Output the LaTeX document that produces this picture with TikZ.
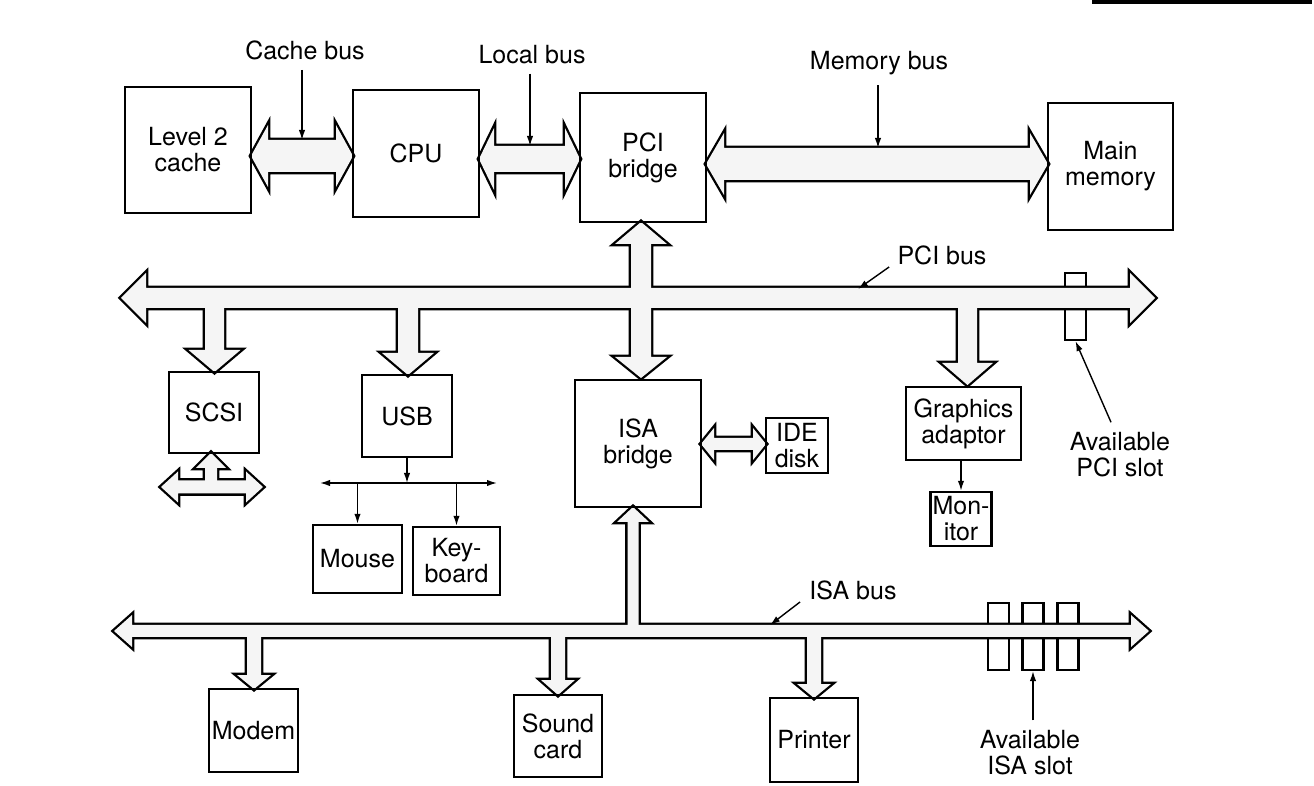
\documentclass[tikz,border=0pt]{standalone}
\usepackage{fontspec}
\setmainfont{TeX Gyre Heros}
\usetikzlibrary{arrows.meta}
\definecolor{busgray}{gray}{0.96}
\newcommand\lbfont{\fontsize{12.5}{13}\selectfont}
% horizontal double arrow: x1 x2 cy shaft-half head-half head-length
\newcommand\busH[6]{(#1,#3) -- ++(#6,-#5) -- ++(0,{#5-#4}) -- ({#2-#6},{#3-#4}) -- ++(0,{#4-#5}) -- (#2,#3) -- ({#2-#6},{#3+#5}) -- ++(0,{#4-#5}) -- ({#1+#6},{#3+#4}) -- ++(0,{#5-#4}) -- cycle}
% vertical arrow pointing down: cx ytop ytip shaft-half head-half head-length
\newcommand\busDown[6]{({#1-#4},#2) -- ({#1-#4},{#3-#6}) -- ({#1-#5},{#3-#6}) -- (#1,#3) -- ({#1+#5},{#3-#6}) -- ({#1+#4},{#3-#6}) -- ({#1+#4},#2) -- cycle}
% vertical arrow pointing up: cx ybottom ytip shaft-half head-half head-length
\newcommand\busUp[6]{({#1-#4},#2) -- ({#1-#4},{#3+#6}) -- ({#1-#5},{#3+#6}) -- (#1,#3) -- ({#1+#5},{#3+#6}) -- ({#1+#4},{#3+#6}) -- ({#1+#4},#2) -- cycle}
\newcommand\allbuses[1]{%
 \path[#1] \busH{251}{353}{156}{16}{31}{17};
 \path[#1] \busH{479}{580}{159}{13}{31}{15};
 \path[#1] \busH{706}{1048}{164}{16}{31}{18};
 \path[#1] \busH{121}{1155}{298}{10}{25}{25};
 \path[#1] \busUp{641}{298}{222}{10}{26}{22};
 \path[#1] \busDown{641}{298}{378}{10}{26}{21};
 \path[#1] \busDown{214.5}{298}{372}{9.5}{26}{22};
 \path[#1] \busDown{408}{298}{375}{10}{26}{22};
 \path[#1] \busDown{967.5}{298}{385}{9.5}{25.5}{22};
 \path[#1] \busUp{211}{487}{453}{6}{15}{15};
 \path[#1] \busH{161}{263}{487}{6.5}{15.5}{17};
 \path[#1] \busH{701}{766}{444}{6}{16}{13};
 \path[#1] \busH{114}{1149}{631}{6}{16}{18};
 \path[#1] \busUp{633}{631}{507}{5.5}{16}{15};
 \path[#1] \busDown{254}{631}{689}{7}{17}{14};
 \path[#1] \busDown{558}{631}{695}{7}{17}{15};
 \path[#1] \busDown{814}{631}{698}{7}{17}{14};
}
\tikzset{
 box/.style={draw, line width=1.2pt, inner sep=0pt, align=center, font=\lbfont},
 lbl/.style={inner sep=0pt, align=center, font=\lbfont},
 slotbox/.style={draw, line width=1.1pt, fill=white, inner sep=0pt, minimum width=10.5pt, minimum height=33.5pt},
 busline/.style={draw, line width=2.3pt},
 busfill/.style={fill=busgray},
 ptr/.style={-{Latex[length=5pt,width=3.2pt]}, line width=0.7pt},
 ptrboth/.style={{Latex[length=5pt,width=3.2pt]}-{Latex[length=5pt,width=3.2pt]}, line width=0.7pt},
}
\begin{document}
\begin{tikzpicture}[x=0.5pt,y=-0.5pt]
\useasboundingbox (0,0) rectangle (1314,786);
% slots (drawn under the buses)
\node[slotbox] (pcislot) at (1075.5,306.5) {};
\node[slotbox] (isas1) at (998.5,636.5) {};
\node[slotbox] (isas2) at (1033,636.5) {};
\node[slotbox] (isas3) at (1068,636.5) {};
% buses
\allbuses{busline}
\allbuses{busfill}
% boxes
\node[box, minimum width=63pt, minimum height=63pt] (l2) at (188,150) {Level 2\\cache};
\node[box, minimum width=63pt, minimum height=63.5pt] (cpu) at (416,153.5) {CPU};
\node[box, minimum width=63pt, minimum height=64.5pt] (pcib) at (643,157.5) {PCI\\bridge};
\node[box, minimum width=62.5pt, minimum height=63.5pt] (mem) at (1110.5,166.5) {Main\\memory};
\node[box, minimum width=45pt, minimum height=40.5pt] (scsi) at (214,412.5) {SCSI};
\node[box, minimum width=45pt, minimum height=41pt] (usb) at (407,416) {USB};
\node[box, minimum width=63pt, minimum height=63.5pt] (isab) at (638,443.5) {ISA\\bridge};
\node[box, minimum width=31pt, minimum height=27.5pt] (ide) at (797,445.5) {IDE\\disk};
\node[box, minimum width=57.5pt, minimum height=36.5pt] (gfx) at (963.5,423.5) {Graphics\\adaptor};
\node[box, minimum width=30.5pt, minimum height=27pt] (mon) at (961,519) {Mon-\\itor};
\node[box, minimum width=44.5pt, minimum height=34pt] (mouse) at (357.5,559) {Mouse};
\node[box, minimum width=43.5pt, minimum height=34pt] (kbd) at (456.5,561) {Key-\\board};
\node[box, minimum width=44.5pt, minimum height=41.5pt] (modem) at (253.5,730.5) {Modem};
\node[box, minimum width=44pt, minimum height=41pt] (sound) at (558,736) {Sound\\card};
\node[box, minimum width=44pt, minimum height=42pt] (printer) at (814,740) {Printer};
% USB fan-out
\coordinate (usbj) at (407,483);
\coordinate (usbl) at (320,483);
\coordinate (usbr) at (497,483);
\draw[ptr] (usb.south) -- (usbj);
\draw[ptrboth] (usbl) -- (usbr);
\draw[ptr] (mouse.north |- usbj) -- (mouse.north);
\draw[ptr] (kbd.north |- usbj) -- (kbd.north);
% graphics to monitor
\draw[ptr] (mon.north |- gfx.south) -- (mon.north);
% bus labels
\node[lbl] (cachelbl) at (305,50) {Cache bus};
\coordinate (cachept) at (302,140);
\draw[ptr] ([yshift=-5pt]cachept |- cachelbl.south) -- (cachept);
\node[lbl] (locallbl) at (532,55) {Local bus};
\coordinate (localpt) at (530,146);
\draw[ptr] ([yshift=-4.5pt]localpt |- locallbl.south) -- (localpt);
\node[lbl] (memlbl) at (879,63) {Memory bus};
\coordinate (mempt) at (878,148);
\draw[ptr] ([yshift=-5pt]mempt |- memlbl.south) -- (mempt);
\node[lbl] (pcilbl) at (942,255) {PCI bus};
\coordinate (pcipt) at (858,289);
\draw[ptr] ([shift={(-4pt,-1pt)}]pcilbl.south west) -- (pcipt);
\node[lbl] (isalbl) at (853,590) {ISA bus};
\coordinate (isapt) at (770,625);
\draw[ptr] ([shift={(-4.5pt,-1pt)}]isalbl.south west) -- (isapt);
\node[lbl] (pcislbl) at (1120,455) {Available\\PCI slot};
\draw[ptr] ([shift={(-4.5pt,5pt)}]pcislbl.north) -- (pcislot.south);
\node[lbl] (isaslbl) at (1030,753) {Available\\ISA slot};
\draw[ptr] ([yshift=5pt]isas2.south |- isaslbl.north) -- (isas2.south);
% page rule at top right
\draw[line width=1.6pt] (1092,2) -- (1312,2);
\end{tikzpicture}
\end{document}
